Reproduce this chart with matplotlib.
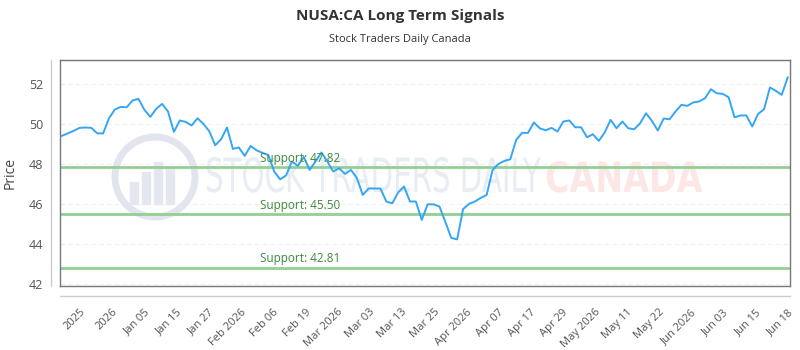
import matplotlib.pyplot as plt
import matplotlib.patches as mpatches
from matplotlib.textpath import TextPath
from matplotlib.font_manager import FontProperties
from matplotlib.transforms import Affine2D
import numpy as np

plt.rcParams['font.family'] = ['Open Sans', 'DejaVu Sans']

# closing prices (one per trading day)
price = [49.40, 49.52, 49.65, 49.80, 49.82, 49.80, 49.53, 49.52, 50.28, 50.72,
         50.85, 50.83, 51.17, 51.25, 50.70, 50.35, 50.75, 51.00, 50.62, 49.60,
         50.17, 50.10, 49.92, 50.28, 50.00, 49.63, 48.93, 49.23, 49.82, 48.75,
         48.82, 48.40, 48.90, 48.68, 48.55, 48.45, 47.62, 47.23, 47.42, 48.12,
         47.90, 48.35, 47.70, 48.12, 48.57, 48.12, 47.62, 47.78, 47.50, 47.70,
         47.30, 46.45, 46.77, 46.77, 46.77, 46.12, 46.03, 46.57, 46.87, 46.12,
         46.12, 45.20, 45.98, 45.98, 45.87, 45.10, 44.30, 44.23, 45.74, 46.00,
         46.12, 46.30, 46.45, 47.70, 48.00, 48.15, 48.23, 49.20, 49.55, 49.55,
         50.07, 49.78, 49.68, 49.80, 49.62, 50.12, 50.17, 49.83, 49.83, 49.33,
         49.48, 49.15, 49.57, 50.20, 49.78, 50.12, 49.78, 49.73, 50.03, 50.53,
         50.15, 49.67, 50.27, 50.23, 50.62, 50.95, 50.90, 51.07, 51.12, 51.28,
         51.73, 51.53, 51.50, 51.33, 50.33, 50.42, 50.42, 49.87, 50.50, 50.73,
         51.82, 51.65, 51.45, 52.32]

tick_labels = ['2025', '2026', 'Jan 05', 'Jan 15', 'Jan 27', 'Feb 2026', 'Feb 06',
               'Feb 19', 'Mar 2026', 'Mar 03', 'Mar 13', 'Mar 25', 'Apr 2026',
               'Apr 07', 'Apr 17', 'Apr 29', 'May 2026', 'May 11', 'May 22',
               'Jun 2026', 'Jun 03', 'Jun 15', 'Jun 18']

supports = [47.82, 45.50, 42.81]

fig = plt.figure(figsize=(8, 3.5), dpi=100)
ax = fig.add_axes([0.075, 0.183, 0.9125, 0.646])

x = np.arange(len(price))
ax.set_xlim(-0.3, len(price) - 0.6)
ax.set_ylim(41.9, 53.2)

# faint dashed grid
for yv in range(42, 53, 2):
    ax.axhline(yv, color='#efefef', lw=0.8, ls=(0, (4, 3)), zorder=0)

# watermark (drawn in inches so the logo stays round)
inch = fig.dpi_scale_trans
ax.add_patch(mpatches.Circle((1.55, 1.73), 0.40, transform=inch, fill=False,
                             ec='#e2e5ee', lw=5, zorder=0))
for bx, bh in [(1.30, 0.22), (1.42, 0.32), (1.54, 0.42), (1.66, 0.36)]:
    ax.add_patch(mpatches.Rectangle((bx, 1.46), 0.08, bh, transform=inch,
                                    color='#e4e7ef', zorder=0))


def wm_text(s, x0, y0, size, sx, color, weight='normal'):
    tp = TextPath((0, 0), s, size=size,
                  prop=FontProperties(family='DejaVu Sans', weight=weight))
    tr = Affine2D().scale(sx / 72.0, 1 / 72.0).translate(x0, y0) + inch
    ax.add_patch(mpatches.PathPatch(tp, transform=tr, fc=color, ec='none',
                                    zorder=0))


wm_text('STOCK TRADERS DAILY', 2.05, 1.58, 34, 0.62, '#e8ecf3')
wm_text('CANADA', 5.45, 1.58, 30, 0.80, '#fde6e6', weight='bold')

for s in supports:
    ax.axhline(s, color='#93cf93', lw=2, zorder=1)
    ax.text(33.6, s + 0.12, f'Support: {s:.2f}', color='#3c8a3c', fontsize=8.5,
            va='bottom', ha='left', zorder=3)

ax.plot(x, price, color='#35a6f3', lw=1.4, zorder=2)

for sp in ax.spines.values():
    sp.set_color('#777777')
    sp.set_linewidth(1)

ax.set_yticks(range(42, 53, 2))
ax.tick_params(axis='y', length=0, pad=12, labelsize=9, labelcolor='#555555')
ax.set_xticks(np.linspace(3.1, len(price) - 1, len(tick_labels)))
ax.set_xticklabels(tick_labels, rotation=45, ha='right', rotation_mode='anchor')
ax.tick_params(axis='x', length=0, pad=15, labelsize=8, labelcolor='#555555')

# offset axis lines
ax.plot([-0.012, -0.012], [0, 1], transform=ax.transAxes, color='#cccccc',
        lw=1, clip_on=False)
ax.plot([0, 1], [-0.045, -0.045], transform=ax.transAxes, color='#cccccc',
        lw=1, clip_on=False)

ax.set_ylabel('Price', fontsize=10, color='#444444', labelpad=8)

fig.text(0.5, 0.955, 'NUSA:CA Long Term Signals', ha='center', va='center',
         fontsize=11, fontweight='bold', color='#333333')
fig.text(0.5, 0.886, 'Stock Traders Daily Canada', ha='center', va='center',
         fontsize=8, color='#333333')

fig.savefig('out.png', dpi=100)
